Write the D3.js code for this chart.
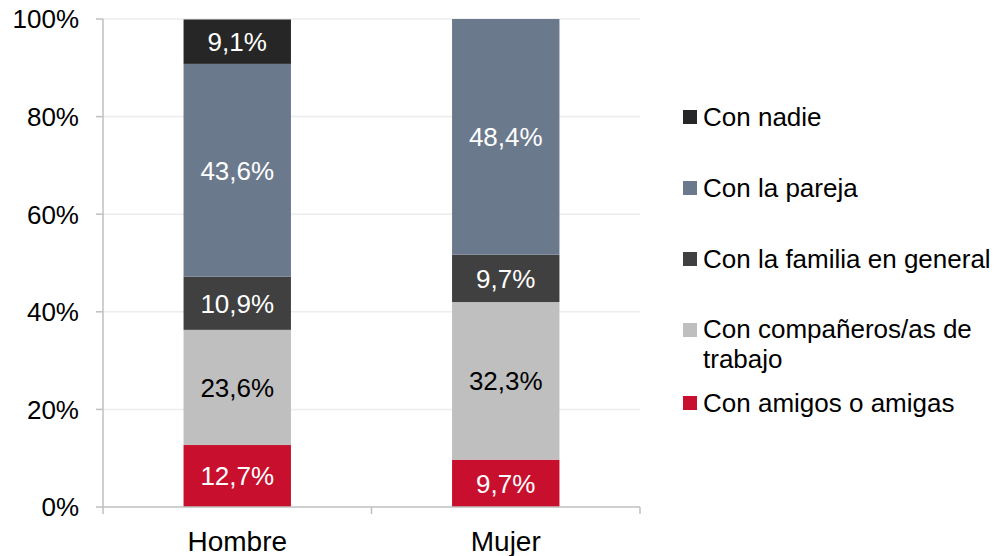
<!DOCTYPE html>
<html>
<head>
<meta charset="utf-8">
<script src="https://cdn.jsdelivr.net/npm/d3@7"></script>
<style>
  body { margin: 0; background: #fff; }
  text { font-family: "Liberation Sans", Arial, sans-serif; }
</style>
</head>
<body>
<div id="chart"></div>
<script>
// data
const categories = ["Hombre", "Mujer"];
const series = ["Con amigos o amigas", "Con compañeros/as de trabajo", "Con la familia en general", "Con la pareja", "Con nadie"];
const hombre = [12.7, 23.6, 10.9, 43.6, 9.1];
const mujer = [9.7, 32.3, 9.7, 48.4, 0];
const colors = ["#c8102e", "#bfbfbf", "#404040", "#6b798d", "#262626"];
const labelColors = ["#fff", "#000", "#fff", "#fff", "#fff"];
const yTicks = [0, 20, 40, 60, 80, 100];

const width = 1000, height = 556;
const margin = {top: 19, left: 103, right: 360, bottom: 49};

const svg = d3.select("#chart").append("svg")
    .attr("width", width)
    .attr("height", height);

let x = d3.scaleBand()
    .domain(categories)
    .range([margin.left, width - margin.right])
    .paddingInner(0.6)
    .paddingOuter(0.3);

let y = d3.scaleLinear()
    .domain([0, 100])
    .range([height - margin.bottom, margin.top]);

// gridlines
svg.append("g").selectAll("line")
    .data(yTicks.slice(1))
    .enter().append("line")
    .attr("x1", margin.left)
    .attr("x2", width - margin.right)
    .attr("y1", d => y(d))
    .attr("y2", d => y(d))
    .attr("stroke", "#ececec")
    .attr("stroke-width", 1.5);

// stacked bars
const rows = categories.map((c, i) => {
    let obj = {cat: c};
    let vals = i === 0 ? hombre : mujer;
    series.forEach((s, j) => obj[s] = vals[j]);
    return obj;
});
const stacked = d3.stack().keys(series)(rows);

stacked.forEach((layer, j) => {
    let g = svg.append("g");
    g.selectAll("rect")
        .data(layer.filter(d => d[1] - d[0] > 0))
        .enter().append("rect")
        .attr("x", d => x(d.data.cat))
        .attr("width", x.bandwidth())
        .attr("y", d => y(Math.min(d[1], 100)))
        .attr("height", d => y(d[0]) - y(Math.min(d[1], 100)))
        .attr("fill", colors[j]);
    g.selectAll("text")
        .data(layer.filter(d => d[1] - d[0] > 0))
        .enter().append("text")
        .attr("x", d => x(d.data.cat) + x.bandwidth() / 2)
        .attr("y", d => y((d[0] + Math.min(d[1], 100)) / 2))
        .attr("dy", "0.36em")
        .attr("text-anchor", "middle")
        .attr("fill", labelColors[j])
        .style("font-size", "26px")
        .text(d => d3.format(".1f")(d[1] - d[0]).replace(".", ",") + "%");
});

// axes
const axisColor = "#bfbfbf";
svg.append("line")
    .attr("x1", margin.left).attr("x2", margin.left)
    .attr("y1", y(100)).attr("y2", y(0))
    .attr("stroke", axisColor).attr("stroke-width", 1.5);
svg.append("line")
    .attr("x1", margin.left).attr("x2", width - margin.right)
    .attr("y1", y(0)).attr("y2", y(0))
    .attr("stroke", axisColor).attr("stroke-width", 1.5);

let yAxis = svg.append("g");
yAxis.selectAll("line")
    .data(yTicks)
    .enter().append("line")
    .attr("x1", margin.left - 7).attr("x2", margin.left)
    .attr("y1", d => y(d)).attr("y2", d => y(d))
    .attr("stroke", axisColor).attr("stroke-width", 1.5);
yAxis.selectAll("text")
    .data(yTicks)
    .enter().append("text")
    .attr("x", margin.left - 24)
    .attr("y", d => y(d))
    .attr("dy", "0.36em")
    .attr("text-anchor", "end")
    .style("font-size", "26px")
    .text(d => d + "%");

// category ticks at band edges
const edges = [margin.left, (margin.left + width - margin.right) / 2, width - margin.right];
svg.append("g").selectAll("line")
    .data(edges)
    .enter().append("line")
    .attr("x1", d => d).attr("x2", d => d)
    .attr("y1", y(0)).attr("y2", y(0) + 7)
    .attr("stroke", axisColor).attr("stroke-width", 1.5);

svg.append("g").selectAll("text")
    .data(categories)
    .enter().append("text")
    .attr("x", d => x(d) + x.bandwidth() / 2)
    .attr("y", y(0) + 44)
    .attr("text-anchor", "middle")
    .style("font-size", "28px")
    .text(d => d);

// legend, top to bottom
const legendItems = [
    {lines: ["Con nadie"], y: 117, color: colors[4]},
    {lines: ["Con la pareja"], y: 188, color: colors[3]},
    {lines: ["Con la familia en general"], y: 259, color: colors[2]},
    {lines: ["Con compañeros/as de", "trabajo"], y: 330, color: colors[1]},
    {lines: ["Con amigos o amigas"], y: 403, color: colors[0]}
];
let legend = svg.append("g").selectAll("g")
    .data(legendItems)
    .enter().append("g");
legend.append("rect")
    .attr("x", 683)
    .attr("y", d => d.y - 7)
    .attr("width", 14)
    .attr("height", 14)
    .attr("fill", d => d.color);
legend.each(function (d) {
    let g = d3.select(this);
    let shift = d.lines.length > 1 ? -1.5 : 0;
    d.lines.forEach((line, i) => {
        g.append("text")
            .attr("x", 703)
            .attr("y", d.y + shift + i * 30.5)
            .attr("dy", "0.36em")
            .style("font-size", "26px")
            .text(line);
    });
});
</script>
</body>
</html>
